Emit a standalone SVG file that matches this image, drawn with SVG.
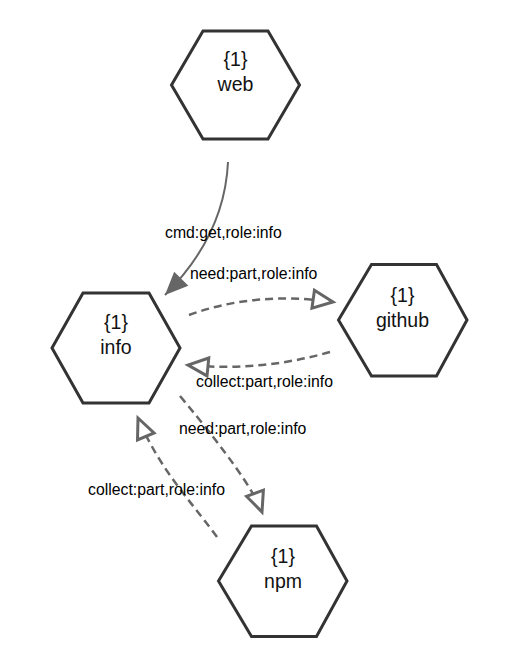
<svg xmlns="http://www.w3.org/2000/svg" width="518" height="670" viewBox="0 0 518 670">
<style>
.hex{fill:#fff;stroke:#333;stroke-width:3;stroke-linejoin:miter}
.nt{font-family:"Liberation Sans",Arial,sans-serif;font-size:19.5px;fill:#111;text-anchor:middle}
.lb{font-family:"Liberation Sans",Arial,sans-serif;font-size:15.8px;fill:#000}
.solid{fill:none;stroke:#666;stroke-width:2}
.dash{fill:none;stroke:#666;stroke-width:2.5;stroke-dasharray:8,5}
</style>
<defs>
<marker id="filled" markerUnits="userSpaceOnUse" markerWidth="30" markerHeight="30" refX="23" refY="10" orient="auto" overflow="visible">
<path d="M0,0 L23,10 L0,20 z" fill="#666"/>
</marker>
<marker id="open" markerUnits="userSpaceOnUse" markerWidth="30" markerHeight="30" refX="20" refY="9" orient="auto" overflow="visible">
<path d="M0,0 L20,9 L0,18 z" fill="#fff" stroke="#666" stroke-width="3" stroke-linejoin="miter"/>
</marker>
</defs>
<g id="connectors">
<path class="solid" d="M228,162 C226,205 210,250 165,295" marker-end="url(#filled)"/>
<path class="dash" d="M189,315 Q255,291 333,302" marker-end="url(#open)"/>
<path class="dash" d="M330,352 Q260,372 188,365" marker-end="url(#open)"/>
<path class="dash" d="M180,396 Q250,480 262,512" marker-end="url(#open)"/>
<path class="dash" d="M217,537 C190,500 160,470 138,418" marker-end="url(#open)"/>
<text class="lb" x="165" y="238">cmd:get,role:info</text>
<text class="lb" x="190" y="279">need:part,role:info</text>
<text class="lb" x="196" y="387">collect:part,role:info</text>
<text class="lb" x="179" y="434">need:part,role:info</text>
<text class="lb" x="88" y="495">collect:part,role:info</text>
</g>
<g id="web">
<polygon class="hex" points="171.5,85 203,31 268,31 299.5,85 268,139 203,139"/>
<text class="nt" x="235.5" y="66">{1}</text>
<text class="nt" x="235.5" y="91">web</text>
</g>
<g id="info">
<polygon class="hex" points="52,348 83,293 149,293 180,348 149,403 83,403"/>
<text class="nt" x="116" y="329">{1}</text>
<text class="nt" x="116" y="354">info</text>
</g>
<g id="github">
<polygon class="hex" points="338.5,320 371.5,264.5 436.5,264.5 467,320 436.5,376 371.5,376"/>
<text class="nt" x="402.5" y="302">{1}</text>
<text class="nt" x="402.5" y="327">github</text>
</g>
<g id="npm">
<polygon class="hex" points="218.5,581 251.5,526 316.5,526 347,581 316.5,636.5 251.5,636.5"/>
<text class="nt" x="283" y="563">{1}</text>
<text class="nt" x="283" y="588">npm</text>
</g>
</svg>
